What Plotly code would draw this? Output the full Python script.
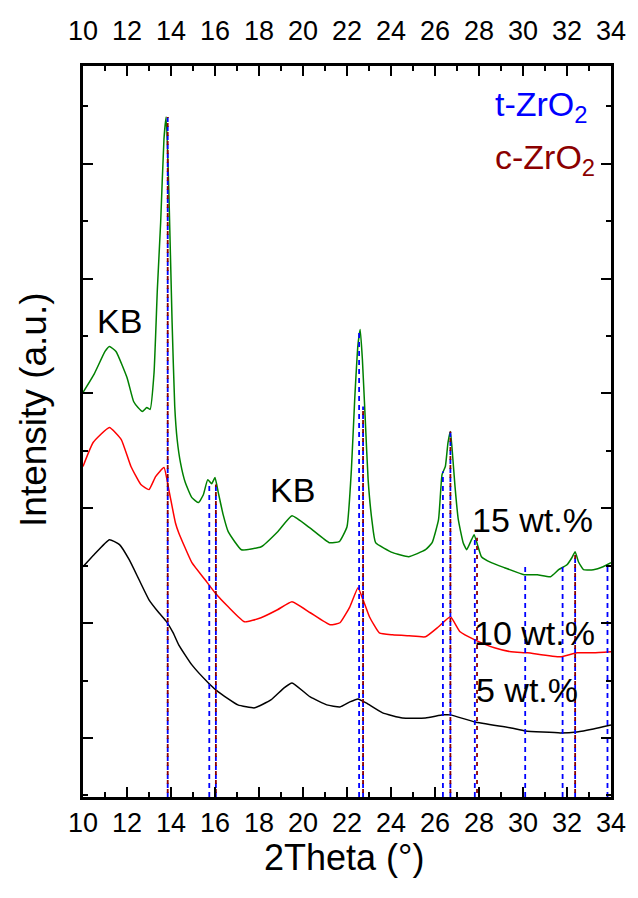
import plotly.graph_objects as go

# ---------------- data ----------------
x15 = [10.0, 10.5, 11.0, 11.2, 11.5, 12.0, 12.3, 12.5, 12.7, 12.9, 13.05, 13.23, 13.38, 13.53,
       13.68, 13.78, 13.9, 14.05, 14.17, 14.28, 14.43, 14.65, 14.95, 15.25, 15.47, 15.67, 15.85,
       16.0, 16.15, 16.37, 16.6, 17.2, 18.1, 18.85, 19.5, 20.3, 21.2, 21.65, 22.0, 22.2, 22.35,
       22.5, 22.6, 22.7, 22.83, 22.96, 23.14, 23.3, 24.08, 24.8, 25.57, 25.87, 26.16, 26.32,
       26.47, 26.59, 26.7, 26.79, 26.91, 27.06, 27.28, 27.44, 27.66, 27.78, 27.93, 28.11, 28.56,
       29.16, 30.05, 30.65, 31.25, 31.62, 32.0, 32.22, 32.37, 32.52, 32.75, 33.2, 33.64, 34.0]
y15 = [3008, 3165, 3365, 3409, 3365, 3138, 2929, 2877, 2842, 2877, 2860, 3182, 3906, 4490,
       5213, 5405, 4777, 3618, 2886, 2598, 2397, 2223, 2092, 2049, 2118, 2249, 2214,
       2267, 2136, 1944, 1796, 1639, 1665, 1796, 1935, 1831, 1700, 1709, 1839, 2336, 2947,
       3426, 3557, 3295, 2772, 2249, 1883, 1700, 1613, 1578, 1639, 1700, 1900, 2293,
       2363, 2572, 2668, 2485, 2188, 1900, 1700, 1639, 1726, 1770, 1683, 1578, 1526,
       1482, 1421, 1421, 1404, 1465, 1508, 1569, 1622, 1534, 1465, 1465, 1491, 1526]

x10 = [10.0, 10.46, 11.2, 11.74, 12.18, 12.63, 13.0, 13.3, 13.68, 13.9, 14.2, 14.35, 14.95,
       15.55, 16.0, 16.6, 17.34, 18.09, 18.84, 19.5, 20.33, 21.23, 21.68, 22.13, 22.5, 22.73,
       23.02, 23.47, 24.07, 24.82, 25.57, 26.16, 26.7, 27.14, 27.81, 28.7, 29.46, 30.2, 31.7,
       32.45, 33.2, 34.0]
y10 = [2363, 2572, 2703, 2598, 2363, 2206, 2162, 2275, 2354, 2162, 1874, 1787, 1526,
       1377, 1264, 1142, 1011, 1046, 1116, 1186, 1090, 985, 1003, 1142, 1308, 1203,
       1055, 915, 898, 889, 881, 968, 1055, 924, 854, 785, 750, 741, 706,
       741, 741, 750]

x5 = [10.0, 10.5, 11.2, 11.66, 12.1, 12.55, 13.0, 13.45, 13.8, 14.1, 14.35, 14.95, 15.7,
      16.15, 17.04, 17.8, 18.54, 19.14, 19.5, 20.33, 21.08, 21.68, 22.13, 22.5, 22.87, 23.62,
      24.52, 25.57, 26.36, 26.7, 27.81, 29.46, 30.1, 31.7, 32.45, 33.2, 34.0]
y5 = [1491, 1595, 1726, 1683, 1552, 1377, 1203, 1090, 1011, 915, 811, 636, 479,
      401, 288, 262, 331, 436, 479, 357, 288, 270, 314, 340, 305, 218,
      174, 174, 201, 201, 139, 87, 61, 44, 52, 78, 113]

# reference lines: positions (2theta) and the intensity they reach
t_pos = [13.85, 15.74, 16.04, 22.55, 22.73, 26.36, 26.70, 27.81, 30.10, 31.80, 32.37, 33.84]
t_top = [5405, 2206, 2206, 3557, 2886, 2319, 2668, 1744, 1508, 1500, 1595, 1508]
c_pos = [13.85, 16.04, 22.73, 26.70, 27.91, 32.37]
c_top = [5405, 2206, 2886, 2668, 1744, 1595]

x_ticks = list(range(10, 35, 2))
y_range = [-514, 5850]
x_range = [10, 34]

FONT = "Liberation Sans, Arial, sans-serif"
GREEN = "#008000"
RED = "#FF0000"
BLUE = "#0000FF"
DARKRED = "#8B0000"

W, H = 638, 898
M = dict(l=83, r=20, t=66, b=101)
plot_h = H - M["t"] - M["b"]
# phase shift (in px) so the c-ZrO2 dashes fall into the gaps of the t-ZrO2 dashes
DASH_SHIFT_PX = 5
dash_shift = DASH_SHIFT_PX * (y_range[1] - y_range[0]) / plot_h

fig = go.Figure()

for xs, ys, col in [(x5, y5, "black"), (x10, y10, RED), (x15, y15, GREEN)]:
    fig.add_trace(go.Scatter(x=xs, y=ys, mode="lines",
                             line=dict(color=col, width=1.5, shape="spline", smoothing=0.4),
                             showlegend=False, hoverinfo="skip"))

for p, top in zip(t_pos, t_top):
    fig.add_trace(go.Scatter(x=[p, p], y=[y_range[0], top], mode="lines",
                             line=dict(color=BLUE, width=1.8, dash="5px,4px"),
                             showlegend=False, hoverinfo="skip"))
for p, top in zip(c_pos, c_top):
    fig.add_trace(go.Scatter(x=[p, p], y=[y_range[0] - dash_shift, top], mode="lines",
                             line=dict(color=DARKRED, width=1.8, dash="4px,5px"),
                             showlegend=False, hoverinfo="skip"))

# invisible trace on the top axis
fig.add_trace(go.Scatter(x=x_range, y=[None, None], xaxis="x2", mode="lines",
                         showlegend=False, hoverinfo="skip"))

axis_common = dict(showline=True, linecolor="black", linewidth=2.5, ticks="inside",
                   ticklen=10, tickwidth=2, tickcolor="black", showgrid=False,
                   zeroline=False)
xminor = dict(dtick=1, tick0=10, ticks="inside", ticklen=5, tickwidth=2, tickcolor="black")

fig.update_layout(
    width=W, height=H,
    margin=M,
    plot_bgcolor="white", paper_bgcolor="white",
    font=dict(family=FONT, color="black"),
    xaxis=dict(range=x_range, tickvals=x_ticks, ticktext=[str(v) for v in x_ticks],
               tickfont=dict(size=27, family=FONT, color="black"),
               minor=xminor, **axis_common),
    xaxis2=dict(range=x_range, overlaying="x", side="top", matches="x",
                tickvals=x_ticks, ticktext=[str(v) for v in x_ticks],
                tickfont=dict(size=27, family=FONT, color="black"),
                ticklabelstandoff=12,
                minor=xminor, **axis_common),
    yaxis=dict(range=y_range, tick0=0, dtick=1000, showticklabels=False, mirror="ticks",
               minor=dict(dtick=500, tick0=0, ticks="inside", ticklen=5, tickwidth=2,
                          tickcolor="black"),
               **axis_common),
)

ann_font = dict(family=FONT, size=34, color="black")
labels = [
    ("KB", 11.66, 3627), ("KB", 19.51, 2162),
    ("15 wt.%", 30.41, 1900), ("10 wt.%", 30.5, 915), ("5 wt.%", 30.19, 418),
]
for txt, xv, yv in labels:
    fig.add_annotation(x=xv, y=yv, text=txt, showarrow=False, font=ann_font,
                       xanchor="center", yanchor="middle")

fig.add_annotation(x=33.06, y=5501, text="t-ZrO<sub>2</sub>", showarrow=False,
                   font=dict(family=FONT, size=34, color=BLUE), xanchor="right",
                   yanchor="middle")
fig.add_annotation(x=33.37, y=5039, text="c-ZrO<sub>2</sub>", showarrow=False,
                   font=dict(family=FONT, size=34, color=DARKRED), xanchor="right",
                   yanchor="middle")

fig.add_annotation(xref="paper", yref="paper", x=0.495, y=-0.083, text="2Theta (°)",
                   showarrow=False, font=dict(family=FONT, size=36, color="black"),
                   xanchor="center", yanchor="middle")
fig.add_annotation(xref="paper", yref="paper", x=-0.0935, y=0.529, text="Intensity (a.u.)",
                   showarrow=False, font=dict(family=FONT, size=37, color="black"),
                   textangle=-90, xanchor="center", yanchor="middle")

fig.write_html("out.html")
